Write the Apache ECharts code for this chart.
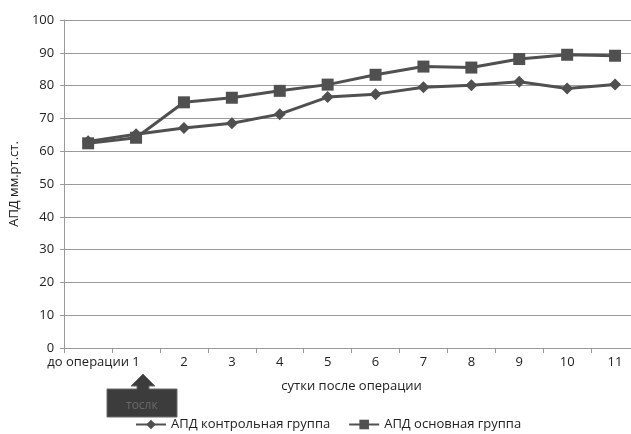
<!DOCTYPE html>
<html><head><meta charset="utf-8">
<script src="https://cdn.jsdelivr.net/npm/echarts@6/dist/echarts.min.js"></script>
<style>html,body{margin:0;padding:0;background:#fff;overflow:hidden}#c{width:640px;height:434px}</style>
</head><body><div id="c"></div>
<script>
const categories = ['до операции','1','2','3','4','5','6','7','8','9','10','11'];
const controlGroup = [63, 65.2, 67.1, 68.5, 71.3, 76.5, 77.4, 79.5, 80.1, 81.2, 79.1, 80.3];
const mainGroup = [62.4, 64.1, 74.9, 76.3, 78.4, 80.3, 83.3, 85.8, 85.5, 88.1, 89.4, 89.1];
const yTicks = {min: 0, max: 100, interval: 10};
const seriesNames = ['АПД контрольная группа','АПД основная группа'];
const font = '"Open Sans", "Noto Sans", sans-serif';
const lineColor = '#505050';

const chart = echarts.init(document.getElementById('c'), null, {renderer:'canvas'});
chart.setOption({
  animation:false,
  backgroundColor:'#fff',
  grid:{left:64, top:20, right:1, bottom:86, containLabel:false},
  legend:{
    top:418, left:135, padding:0, itemWidth:30, itemHeight:12, itemGap:18,
    textStyle:{fontFamily:font, fontSize:13, color:'#222'},
    data:[seriesNames[0], seriesNames[1]]
  },
  xAxis:{
    type:'category', data:categories, boundaryGap:true,
    name:'сутки после операции', nameLocation:'middle', nameGap:32,
    nameTextStyle:{fontFamily:font, fontSize:13, color:'#222'},
    axisLine:{lineStyle:{color:'#999', width:1}},
    axisTick:{show:true, length:5, lineStyle:{color:'#999'}},
    axisLabel:{fontFamily:font, fontSize:13, color:'#222', margin:8, interval:0}
  },
  yAxis:{
    type:'value', min:yTicks.min, max:yTicks.max, interval:yTicks.interval,
    name:'АПД мм.рт.ст.', nameLocation:'middle', nameGap:42, nameRotate:90,
    nameTextStyle:{fontFamily:font, fontSize:13, color:'#222'},
    axisLine:{show:true, lineStyle:{color:'#999', width:1}},
    axisTick:{show:true, length:4, lineStyle:{color:'#999'}},
    axisLabel:{fontFamily:font, fontSize:13, color:'#222', margin:10},
    splitLine:{lineStyle:{color:'#9a9a9a', width:1.2}}
  },
  series:[
    {name:seriesNames[0], type:'line', data:controlGroup, symbol:'diamond', symbolSize:12,
     lineStyle:{color:lineColor, width:3}, itemStyle:{color:lineColor}},
    {name:seriesNames[1], type:'line', data:mainGroup, symbol:'rect', symbolSize:12,
     lineStyle:{color:lineColor, width:3}, itemStyle:{color:lineColor}}
  ],
  graphic:[
    {type:'polygon', shape:{points:[[107,389],[137,389],[137,386],[131,386],[143,374],[155,386],[149,386],[149,389],[177,389],[177,417],[107,417]]},
     style:{fill:'#3c3c3c', stroke:'#6a6a6a', lineWidth:1}},
    {type:'text', left:126, top:400, style:{text:'тослк', font:'12px ' + font, fill:'#6a6a6a'}}
  ]
});
</script></body></html>
